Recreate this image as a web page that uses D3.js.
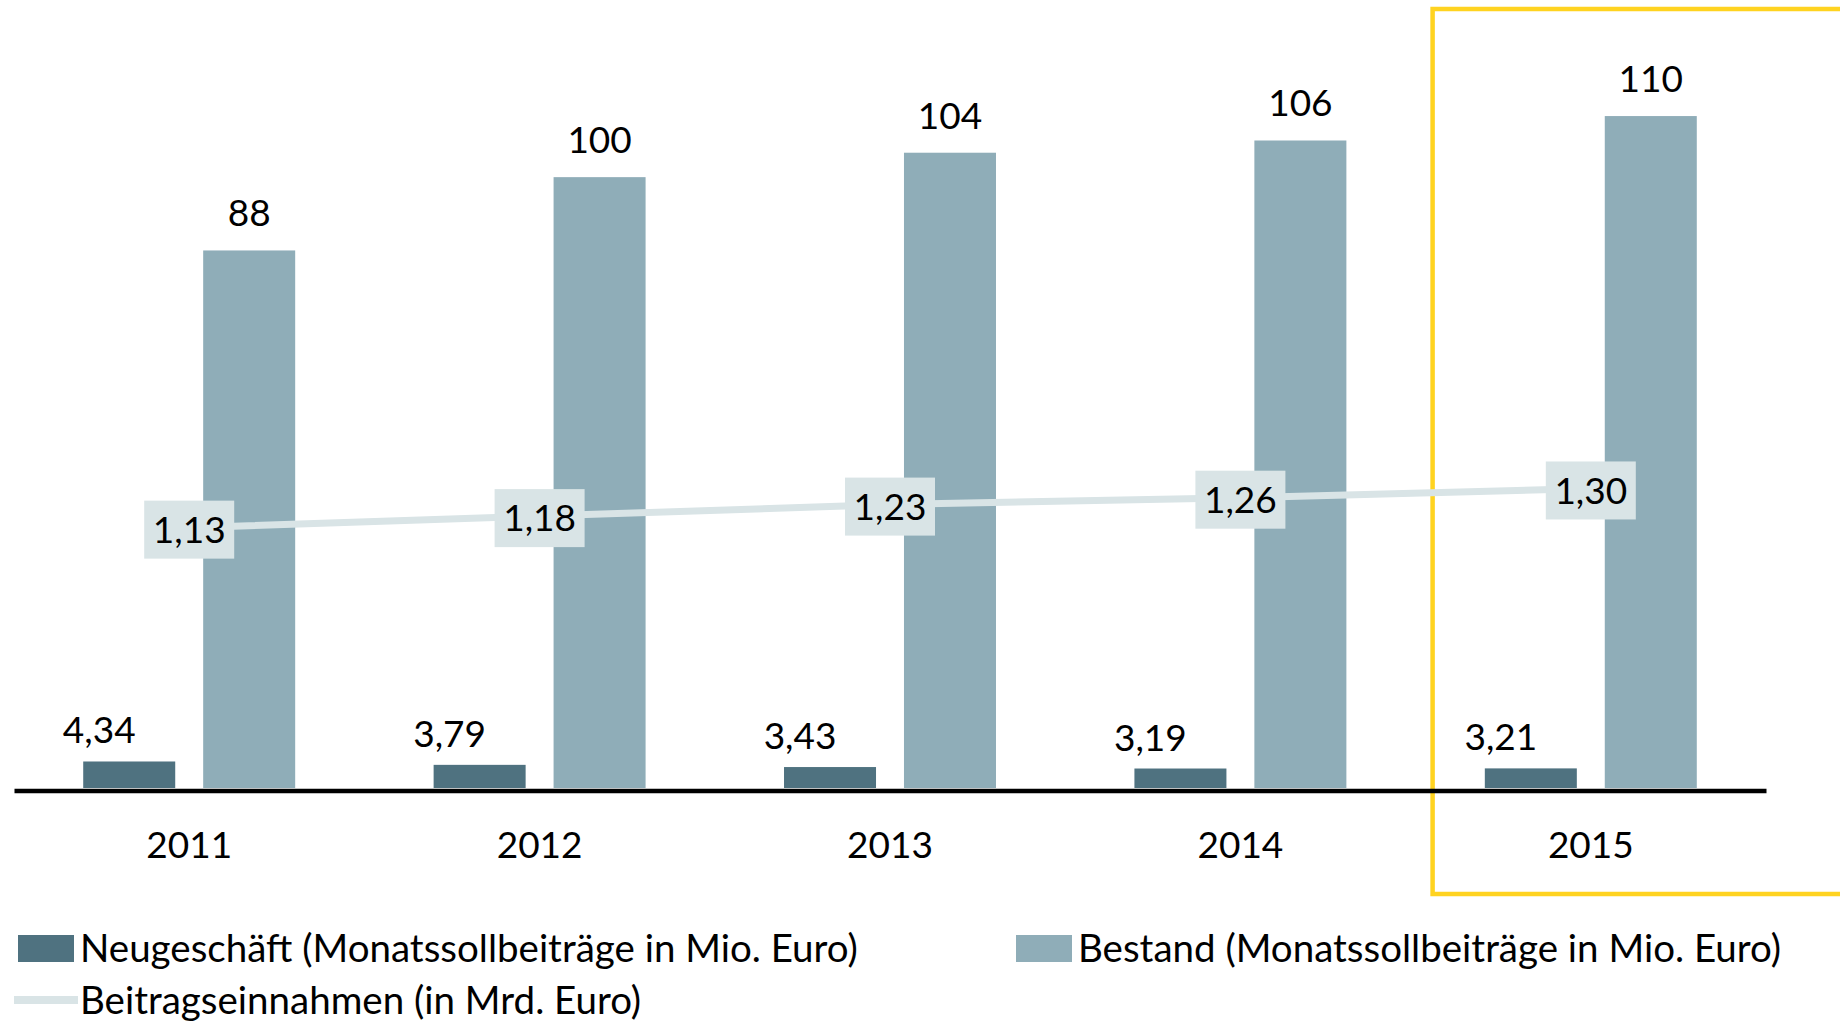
<!DOCTYPE html>
<html>
<head>
<meta charset="utf-8">
<script src="https://cdnjs.cloudflare.com/ajax/libs/d3/7.8.5/d3.min.js"></script>
<style>
  body { margin: 0; background: #fff; }
  svg { display: block; }
  text { font-family: Lato, "Open Sans", sans-serif; fill: #000; }
</style>
</head>
<body>
<svg width="1840" height="1021"></svg>
<script>
const years = ["2011", "2012", "2013", "2014", "2015"];
const neugeschaeft = [4.34, 3.79, 3.43, 3.19, 3.21];
const bestand = [88, 100, 104, 106, 110];
const beitragseinnahmen = [1.13, 1.18, 1.23, 1.26, 1.30];
const legendLabels = [
    "Neugeschäft (Monatssollbeiträge in Mio. Euro)",
    "Bestand (Monatssollbeiträge in Mio. Euro)",
    "Beitragseinnahmen (in Mrd. Euro)"
];

const colNeu = "#4f7280", colBestand = "#8fadb8", colLine = "#d9e4e6", colHighlight = "#ffd320";
const de = d3.formatLocale({decimal: ",", thousands: ".", grouping: [3], currency: ["", " €"]});
const fmt2 = de.format(".2f");

const svg = d3.select("svg");
const baseY = 788;
const numSize = 37, legendSize = 38.5;

const x = d3.scaleBand().domain(years).range([14, 1766]).padding(0);
const sub = d3.scaleBand().domain(["neu", "bestand"]).range([0, x.bandwidth()])
    .paddingInner(0.233).paddingOuter(0.577);
const y = d3.scaleLinear().domain([0, 129]).range([baseY, 0]);
const y2 = d3.scaleLinear().domain([0, 3.42]).range([baseY, 0]);

// highlight frame for the latest year
svg.append("rect")
    .attr("x", x("2015") + 17)
    .attr("y", 9)
    .attr("width", 600)
    .attr("height", 885)
    .attr("fill", "none")
    .attr("stroke", colHighlight)
    .attr("stroke-width", 4.5);

const g = svg.append("g");

g.selectAll(".neu").data(years).join("rect")
    .attr("class", "neu")
    .attr("x", d => x(d) + sub("neu"))
    .attr("width", sub.bandwidth())
    .attr("y", (d, i) => y(neugeschaeft[i]))
    .attr("height", (d, i) => baseY - y(neugeschaeft[i]))
    .attr("fill", colNeu);

g.selectAll(".bestand").data(years).join("rect")
    .attr("class", "bestand")
    .attr("x", d => x(d) + sub("bestand"))
    .attr("width", sub.bandwidth())
    .attr("y", (d, i) => y(bestand[i]))
    .attr("height", (d, i) => baseY - y(bestand[i]))
    .attr("fill", colBestand);

// x axis
const xAxis = svg.append("g")
    .attr("transform", `translate(0,${baseY + 2.5})`)
    .call(d3.axisBottom(x).tickSize(0).tickPadding(0));
xAxis.select(".domain").attr("stroke", "#000").attr("stroke-width", 4.5);
xAxis.selectAll(".tick text")
    .attr("dy", null)
    .attr("y", 67)
    .attr("font-size", numSize)
    .attr("font-family", "Lato, 'Open Sans', sans-serif")
    .attr("fill", "#000");

// value labels
g.selectAll(".lab-neu").data(years).join("text")
    .attr("x", d => x(d) + sub("neu") + sub.bandwidth() / 2 - 30)
    .attr("y", (d, i) => y(neugeschaeft[i]) - 18)
    .attr("text-anchor", "middle")
    .attr("font-size", numSize)
    .text((d, i) => fmt2(neugeschaeft[i]));

g.selectAll(".lab-bestand").data(years).join("text")
    .attr("x", d => x(d) + sub("bestand") + sub.bandwidth() / 2)
    .attr("y", (d, i) => y(bestand[i]) - 24)
    .attr("text-anchor", "middle")
    .attr("font-size", numSize)
    .text((d, i) => bestand[i]);

// line series
const line = d3.line()
    .x((d, i) => x(years[i]) + x.bandwidth() / 2)
    .y(d => y2(d));

g.append("path")
    .datum(beitragseinnahmen)
    .attr("d", line)
    .attr("fill", "none")
    .attr("stroke", colLine)
    .attr("stroke-width", 7);

const lineLabels = g.selectAll(".lab-line").data(beitragseinnahmen).join("g")
    .attr("transform", (d, i) => `translate(${x(years[i]) + x.bandwidth() / 2},${y2(d) + 2})`);
lineLabels.append("rect")
    .attr("x", -45).attr("y", -29)
    .attr("width", 90).attr("height", 58)
    .attr("fill", colLine);
lineLabels.append("text")
    .attr("text-anchor", "middle")
    .attr("dy", "0.36em")
    .attr("font-size", numSize)
    .text(d => fmt2(d));

// legend
const legend = svg.append("g");
const items = [
    {x: 18, y: 948, type: "rect", color: colNeu, label: legendLabels[0]},
    {x: 1016, y: 948, type: "rect", color: colBestand, label: legendLabels[1]},
    {x: 14, y: 1000, type: "line", color: colLine, label: legendLabels[2]}
];
items.forEach(it => {
    if (it.type === "rect") {
        legend.append("rect")
            .attr("x", it.x).attr("y", it.y - 13)
            .attr("width", 56).attr("height", 27)
            .attr("fill", it.color);
    } else {
        legend.append("line")
            .attr("x1", it.x).attr("x2", it.x + 64)
            .attr("y1", it.y).attr("y2", it.y)
            .attr("stroke", it.color).attr("stroke-width", 8);
    }
    legend.append("text")
        .attr("x", it.x + (it.type === "rect" ? 62 : 66))
        .attr("y", it.y)
        .attr("dy", "0.36em")
        .attr("font-size", legendSize)
        .text(it.label);
});
</script>
</body>
</html>
